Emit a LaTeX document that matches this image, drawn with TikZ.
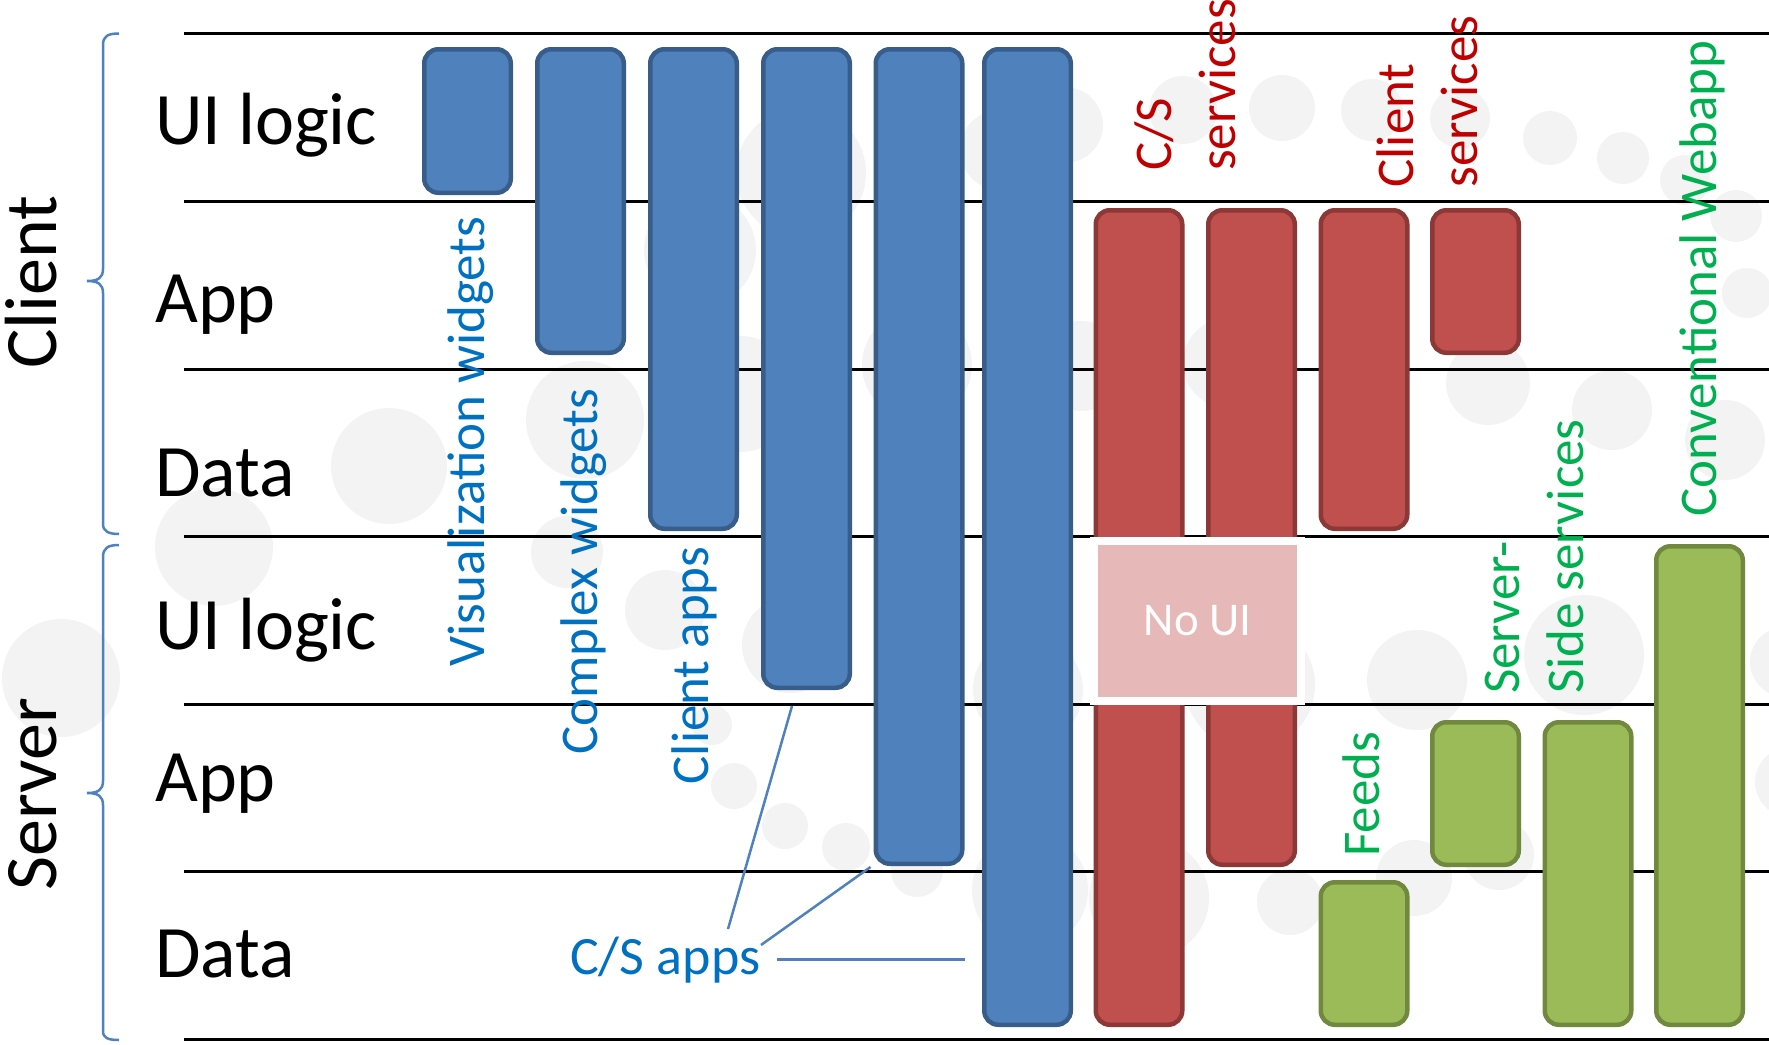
\documentclass[tikz,border=0pt]{standalone}
\usepackage{fontspec}
\setmainfont{Carlito}
\usetikzlibrary{calc}

\definecolor{barblue}{HTML}{4F81BD}
\definecolor{barblueedge}{HTML}{385D8A}
\definecolor{barred}{HTML}{C0504D}
\definecolor{barrededge}{HTML}{8C3836}
\definecolor{bargreen}{HTML}{9BBB59}
\definecolor{bargreenedge}{HTML}{71893F}
\definecolor{nouipink}{HTML}{E6B9B8}
\definecolor{txtblue}{HTML}{0070C0}
\definecolor{txtred}{HTML}{C00000}
\definecolor{txtgreen}{HTML}{00B050}
\definecolor{dotgrey}{HTML}{F3F3F3}

\tikzset{
  bar/.style={draw, rounded corners=14pt, line width=4.5pt,
    minimum width=86.5pt, inner sep=0pt},
  bluebar/.style={bar, fill=barblue, draw=barblueedge},
  redbar/.style={bar, fill=barred, draw=barrededge},
  greenbar/.style={bar, fill=bargreen, draw=bargreenedge},
  rowlabel/.style={anchor=base west, inner sep=0pt,
    font=\fontsize{74}{80}\selectfont},
  tierlabel/.style={rotate=90, anchor=base, inner sep=0pt,
    font=\fontsize{74}{80}\selectfont},
  vlabel/.style={rotate=90, inner sep=0pt, align=left,
    font=\fontsize{53}{64}\selectfont},
  rule/.style={line width=3pt, black},
  brace/.style={draw=barblue, line width=2.5pt},
  callout/.style={draw=barblue, line width=2.5pt},
}

\begin{document}
\begin{tikzpicture}[x=1pt, y=-1pt]
\useasboundingbox (0,0) rectangle (1769,1044);

% faint background dots
\foreach \cx/\cy/\r in {
  61/678/59, 214/547/59, 389/466/58, 585/420/59, 567/552/36,
  665/610/40, 790/645/48, 712/725/20, 734/786/23, 785/826/23,
  846/847/24, 917/871/26, 1030/890/58, 1149/898/60, 1290/902/33,
  1414/878/38, 1499/855/35, 1417/680/50, 1584/655/60, 1725/440/40,
  1612/410/40, 1488/383/42, 1228/363/45, 1081/366/45, 917/365/55,
  740/394/58, 700/250/56, 801/173/65, 1000/150/40, 1065/125/38,
  1183/110/34, 1282/108/33, 1372/110/31, 1460/118/30, 1550/138/27,
  1623/158/26, 1685/180/25, 1736/216/26, 1747/293/25, 1028/690/55,
  1250/685/65, 1785/662/35, 1790/782/35}
  \fill[dotgrey] (\cx,\cy) circle[radius=\r pt];

% tier rules
\foreach \ry in {33.8, 201.4, 369.0, 536.6, 704.2, 871.8, 1039.4}
  \draw[rule] (184,\ry) -- (1769,\ry);

% braces
\draw[brace] (119,33.5) .. controls (108,33.5) and (103,36) .. (103,45)
  -- (103,269) .. controls (103,278) and (98,281) .. (87,281)
  .. controls (98,281) and (103,284) .. (103,293)
  -- (103,524) .. controls (103,531) and (108,534) .. (119,534);
\draw[brace] (119,545) .. controls (108,545) and (103,548) .. (103,557)
  -- (103,781) .. controls (103,790) and (98,793) .. (87,793)
  .. controls (98,793) and (103,796) .. (103,805)
  -- (103,1031) .. controls (103,1038) and (108,1040) .. (119,1040);

% tier and row labels
\node[tierlabel] (client) at (56.6,282) {Client};
\node[tierlabel] (server) at (56.6,794) {Server};
\node[rowlabel] (cui)   at (155,144.6) {UI logic};
\node[rowlabel] (capp)  at (155,322)   {App};
\node[rowlabel] (cdata) at (155,496)   {Data};
\node[rowlabel] (sui)   at (155,649)   {UI logic};
\node[rowlabel] (sapp)  at (155,801)   {App};
\node[rowlabel] (sdata) at (155,977)   {Data};

% client-side bars
\node[bluebar, minimum height=143.5pt] (b1) at (467.5,121)   {};
\node[bluebar, minimum height=303.5pt] (b2) at (580.5,201)   {};
\node[bluebar, minimum height=479.5pt] (b3) at (693.5,289)   {};
\node[bluebar, minimum height=638.5pt] (b4) at (806.5,368.5) {};
\node[bluebar, minimum height=814.5pt] (b5) at (919,456.5)   {};
\node[bluebar, minimum height=975.5pt] (b6) at (1027.5,537)  {};

% service bars
\node[redbar, minimum height=814.5pt] (r1) at (1139,617.5)   {};
\node[redbar, minimum height=654.5pt] (r2) at (1251.5,537.5) {};
\node[redbar, minimum height=318.5pt] (r3) at (1364,369.5)   {};
\node[redbar, minimum height=142.5pt] (r4) at (1475.5,281.5) {};

% server-side bars
\node[greenbar, minimum height=142.5pt] (g1) at (1364,953.5)   {};
\node[greenbar, minimum height=142.5pt] (g2) at (1475.5,793.5) {};
\node[greenbar, minimum height=302.5pt] (g3) at (1588,873.5)   {};
\node[greenbar, minimum height=478.5pt] (g4) at (1699.5,785.5) {};

% the server UI row that services leave empty
\node[fill=nouipink, draw=white, line width=8pt, minimum width=207pt,
  minimum height=160pt, inner sep=0pt, text=white,
  font=\fontsize{47}{50}\selectfont] (noui) at (1197.5,621) {No UI};

% bar captions
\node[vlabel, anchor=base west, text=txtblue] (lvis) at (484,666.5) {Visualization widgets};
\node[vlabel, anchor=base west, text=txtblue] (lcpx) at (597.8,755) {Complex widgets};
\node[vlabel, anchor=base west, text=txtblue] (lcli) at (708.8,784.5) {Client apps};
\node[vlabel, anchor=south west, text=txtred] (lcss) at (1236.5,171) {C/S\\services};
\node[vlabel, anchor=south west, text=txtred] (lcls) at (1477.6,187.7) {Client\\services};
\node[vlabel, anchor=base west, text=txtgreen] (lfeed) at (1379.5,857) {Feeds};
\node[vlabel, anchor=south west, text=txtgreen] (lssv) at (1584,694) {Server-\\Side services};
\node[vlabel, anchor=base west, text=txtgreen] (lweb) at (1716.5,516.5) {Conventional Webapp};

% C/S apps callout
\node[anchor=base west, inner sep=0pt, text=txtblue,
  font=\fontsize{54}{60}\selectfont] (csapps) at (570,974) {C/S apps};
\coordinate (q1) at (728,929);
\coordinate (q2) at (761,945);
\draw[callout] (q1) -- ([shift={(-14.5,16)}]b4.south);
\draw[callout] (q2) -- ([shift={(-3,1)}]b5.south west);
\draw[callout, shorten <=16pt, shorten >=17pt] (csapps.east) -- (csapps.east -| b6.west);
\end{tikzpicture}
\end{document}
